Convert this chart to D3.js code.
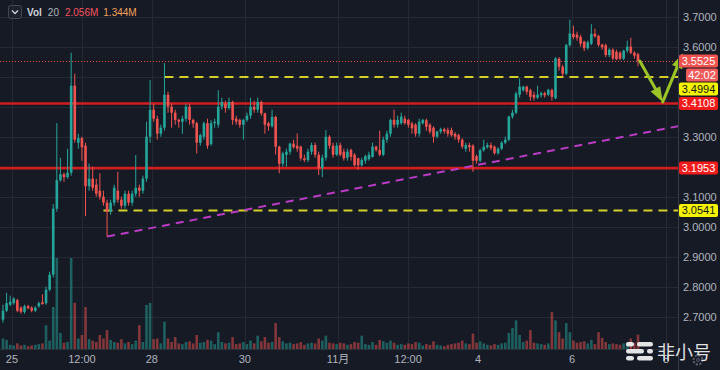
<!DOCTYPE html>
<html>
<head>
<meta charset="utf-8">
<script src="https://cdn.jsdelivr.net/npm/d3@7"></script>
<style>
  html, body { margin: 0; padding: 0; background: #161a25; overflow: hidden; }
  svg { display: block; font-family: 'Liberation Sans', Arial, sans-serif; }
</style>
</head>
<body>
<div id="stage"></div>
<script>
'use strict';

// candles (one per bar, left to right)
var opens = [
  2.69, 2.72, 2.74, 2.745, 2.755, 2.73, 2.716, 2.735, 2.73, 2.72,
  2.735, 2.748, 2.745, 2.79, 2.84, 3.06, 3.155, 3.175, 3.165, 3.18,
  3.47, 3.28, 3.295, 3.27, 3.135, 3.16, 3.14, 3.12, 3.10, 3.08,
  3.05, 3.08, 3.12, 3.09, 3.07, 3.11, 3.08, 3.11, 3.13, 3.12,
  3.16, 3.30, 3.39, 3.36, 3.31, 3.33, 3.44, 3.40, 3.38, 3.356,
  3.35, 3.36, 3.40, 3.356, 3.345, 3.28, 3.30, 3.345, 3.275, 3.345,
  3.34, 3.40, 3.41, 3.395, 3.416, 3.36, 3.356, 3.34, 3.356, 3.37,
  3.40, 3.39, 3.416, 3.378, 3.345, 3.335, 3.366, 3.267, 3.21, 3.24,
  3.25, 3.277, 3.27, 3.267, 3.228, 3.222, 3.25, 3.272, 3.24, 3.195,
  3.23, 3.30, 3.27, 3.24, 3.272, 3.25, 3.23, 3.256, 3.24, 3.228,
  3.205, 3.22, 3.225, 3.233, 3.267, 3.256, 3.24, 3.29, 3.31, 3.356,
  3.34, 3.345, 3.36, 3.356, 3.344, 3.34, 3.31, 3.345, 3.355, 3.34,
  3.33, 3.30, 3.317, 3.325, 3.322, 3.322, 3.31, 3.305, 3.29, 3.26,
  3.272, 3.27, 3.235, 3.22, 3.255, 3.265, 3.272, 3.267, 3.245, 3.26,
  3.28, 3.29, 3.367, 3.38, 3.44, 3.455, 3.467, 3.455, 3.44, 3.43,
  3.438, 3.445, 3.44, 3.456, 3.428, 3.56, 3.533, 3.51, 3.605, 3.643,
  3.64, 3.633, 3.617, 3.595, 3.61, 3.643, 3.636, 3.607, 3.605, 3.572,
  3.59, 3.583, 3.58, 3.56, 3.587, 3.60, 3.58, 3.575
];
var highs = [
  2.74, 2.78, 2.77, 2.765, 2.76, 2.735, 2.74, 2.74, 2.735, 2.735,
  2.75, 2.775, 2.80, 2.85, 3.075, 3.345, 3.23, 3.18, 3.26, 3.58,
  3.51, 3.31, 3.30, 3.28, 3.21, 3.20, 3.16, 3.178, 3.12, 3.09,
  3.09, 3.14, 3.183, 3.10, 3.12, 3.12, 3.12, 3.239, 3.14, 3.17,
  3.35, 3.489, 3.41, 3.37, 3.34, 3.545, 3.45, 3.41, 3.39, 3.36,
  3.37, 3.41, 3.41, 3.36, 3.35, 3.31, 3.35, 3.36, 3.355, 3.36,
  3.455, 3.43, 3.42, 3.43, 3.42, 3.37, 3.36, 3.36, 3.38, 3.43,
  3.42, 3.43, 3.42, 3.38, 3.35, 3.39, 3.37, 3.27, 3.25, 3.26,
  3.28, 3.29, 3.311, 3.27, 3.24, 3.26, 3.28, 3.28, 3.25, 3.24,
  3.322, 3.305, 3.28, 3.28, 3.28, 3.26, 3.26, 3.26, 3.245, 3.23,
  3.23, 3.24, 3.25, 3.28, 3.27, 3.32, 3.30, 3.32, 3.36, 3.39,
  3.37, 3.38, 3.37, 3.36, 3.35, 3.345, 3.36, 3.36, 3.36, 3.345,
  3.335, 3.32, 3.33, 3.33, 3.33, 3.33, 3.315, 3.31, 3.295, 3.28,
  3.28, 3.275, 3.24, 3.26, 3.29, 3.28, 3.28, 3.27, 3.265, 3.285,
  3.30, 3.37, 3.39, 3.45, 3.494, 3.47, 3.47, 3.46, 3.45, 3.47,
  3.45, 3.45, 3.46, 3.46, 3.565, 3.565, 3.54, 3.61, 3.69, 3.67,
  3.65, 3.64, 3.62, 3.62, 3.675, 3.66, 3.64, 3.61, 3.61, 3.595,
  3.595, 3.59, 3.585, 3.59, 3.62, 3.63, 3.585, 3.58
];
var lows = [
  2.68, 2.715, 2.735, 2.74, 2.715, 2.71, 2.71, 2.725, 2.715, 2.715,
  2.73, 2.74, 2.74, 2.785, 2.83, 3.05, 3.15, 3.15, 3.16, 3.17,
  3.28, 3.26, 3.22, 3.035, 3.12, 3.12, 3.10, 3.09, 3.07, 2.967,
  3.04, 3.07, 3.08, 3.06, 3.06, 3.07, 3.07, 3.10, 3.10, 3.11,
  3.15, 3.28, 3.35, 3.29, 3.30, 3.32, 3.38, 3.33, 3.34, 3.33,
  3.31, 3.35, 3.34, 3.33, 3.244, 3.27, 3.29, 3.26, 3.27, 3.33,
  3.33, 3.39, 3.38, 3.39, 3.34, 3.34, 3.33, 3.29, 3.35, 3.36,
  3.38, 3.38, 3.37, 3.31, 3.32, 3.33, 3.24, 3.178, 3.20, 3.20,
  3.24, 3.26, 3.25, 3.22, 3.215, 3.215, 3.24, 3.23, 3.172, 3.165,
  3.22, 3.26, 3.23, 3.235, 3.235, 3.22, 3.22, 3.22, 3.20, 3.19,
  3.20, 3.21, 3.22, 3.23, 3.25, 3.235, 3.235, 3.28, 3.30, 3.33,
  3.33, 3.34, 3.34, 3.33, 3.31, 3.30, 3.30, 3.34, 3.32, 3.31,
  3.28, 3.295, 3.31, 3.31, 3.30, 3.30, 3.29, 3.28, 3.26, 3.25,
  3.25, 3.183, 3.21, 3.215, 3.25, 3.26, 3.255, 3.24, 3.24, 3.255,
  3.275, 3.285, 3.36, 3.375, 3.43, 3.45, 3.44, 3.42, 3.42, 3.425,
  3.43, 3.43, 3.435, 3.42, 3.425, 3.52, 3.50, 3.505, 3.60, 3.625,
  3.62, 3.60, 3.585, 3.59, 3.605, 3.63, 3.60, 3.59, 3.565, 3.565,
  3.555, 3.555, 3.555, 3.555, 3.58, 3.575, 3.56, 3.535
];
var closes = [
  2.72, 2.745, 2.75, 2.76, 2.72, 2.716, 2.735, 2.728, 2.72, 2.73,
  2.745, 2.742, 2.79, 2.84, 3.06, 3.155, 3.175, 3.165, 3.18, 3.47,
  3.29, 3.295, 3.265, 3.135, 3.16, 3.13, 3.11, 3.10, 3.08, 3.05,
  3.08, 3.13, 3.09, 3.07, 3.11, 3.08, 3.11, 3.13, 3.12, 3.16,
  3.30, 3.39, 3.36, 3.31, 3.33, 3.44, 3.40, 3.38, 3.356, 3.35,
  3.36, 3.40, 3.356, 3.344, 3.28, 3.305, 3.345, 3.27, 3.345, 3.35,
  3.40, 3.416, 3.395, 3.416, 3.356, 3.35, 3.34, 3.356, 3.37, 3.40,
  3.39, 3.416, 3.378, 3.34, 3.335, 3.366, 3.267, 3.21, 3.244, 3.25,
  3.277, 3.265, 3.26, 3.228, 3.222, 3.25, 3.272, 3.24, 3.195, 3.23,
  3.30, 3.27, 3.24, 3.27, 3.24, 3.228, 3.25, 3.233, 3.205, 3.205,
  3.222, 3.235, 3.24, 3.267, 3.256, 3.24, 3.29, 3.31, 3.356, 3.34,
  3.356, 3.367, 3.345, 3.34, 3.328, 3.31, 3.35, 3.356, 3.333, 3.317,
  3.30, 3.317, 3.325, 3.318, 3.31, 3.305, 3.30, 3.29, 3.267, 3.272,
  3.265, 3.22, 3.22, 3.255, 3.267, 3.272, 3.262, 3.245, 3.26, 3.28,
  3.29, 3.367, 3.38, 3.444, 3.467, 3.467, 3.45, 3.433, 3.43, 3.44,
  3.445, 3.438, 3.456, 3.433, 3.561, 3.533, 3.51, 3.605, 3.644, 3.632,
  3.63, 3.61, 3.595, 3.615, 3.643, 3.634, 3.606, 3.598, 3.572, 3.59,
  3.561, 3.558, 3.56, 3.587, 3.60, 3.58, 3.57, 3.5525
];
// volume in millions
var volumes = [
  1.5, 1.3, 0.6, 0.5, 0.8, 0.5, 0.6, 0.4, 0.5, 0.6,
  0.7, 0.8, 3.4, 1.2, 6.0, 13.0, 2.3, 0.9, 1.0, 13.0,
  6.6, 1.5, 2.0, 6.0, 1.4, 1.2, 1.0, 2.0, 1.5, 2.7,
  1.3, 1.0, 0.9, 1.4, 0.8, 1.0, 0.7, 1.2, 3.4, 1.0,
  6.3, 6.6, 1.4, 1.5, 0.8, 3.9, 1.5, 1.0, 1.7, 0.8,
  0.7, 1.0, 1.1, 0.8, 2.0, 0.9, 1.0, 1.3, 1.2, 0.7,
  2.4, 1.0, 0.8, 0.9, 1.7, 0.7, 0.8, 1.0, 0.7, 1.2,
  0.8, 1.9, 1.1, 1.7, 0.9, 1.0, 3.7, 1.7, 1.1, 0.8,
  0.9, 0.7, 0.8, 1.0, 0.6, 0.8, 0.9, 0.8, 1.5, 1.2,
  1.9, 0.9, 0.8, 0.7, 0.9, 0.8, 0.6, 0.7, 1.0, 0.9,
  1.9, 0.7, 0.6, 1.0, 0.6, 1.3, 1.1, 0.9, 1.2, 0.9,
  0.6, 0.7, 0.6, 0.8, 0.7, 1.0, 0.9, 0.5, 0.7, 0.6,
  1.1, 0.6, 0.5, 0.4, 0.6, 0.7, 0.8, 0.9, 1.2, 0.8,
  0.7, 2.2, 0.9, 1.1, 0.8, 0.6, 0.5, 0.7, 0.6, 0.8,
  0.9, 2.3, 3.0, 4.1, 2.0, 1.0, 1.2, 2.7, 0.9, 0.8,
  0.7, 0.6, 0.8, 5.3, 4.1, 2.4, 1.5, 3.7, 2.4, 1.2,
  0.9, 1.0, 1.1, 0.8, 1.3, 0.7, 2.4, 1.6, 1.0, 0.7,
  0.8, 0.7, 0.6, 0.8, 0.9, 1.5, 0.9, 2.056
];

var priceTicks = [2.7, 2.8, 2.9, 3.0, 3.1, 3.2, 3.3, 3.4, 3.5, 3.6, 3.7];
var timeTickIdx = [2.5, 22, 41.5, 67.4, 93.4, 112.9, 132.4, 158.6, 184.8];
var timeTickLabels = ['25', '12:00', '28', '30', '11月', '12:00', '4', '6', '8'];

// drawings on the chart
var redLevels = [3.4108, 3.1953];
var yellowLevels = [3.4994, 3.0541];
var yellowStartIdx = [45, 28];
var trendIdx = [29, 188.6];
var trendPrice = [2.967, 3.336];
var arrowIdx = [177.5, 183.9, 189.5];
var arrowPrice = [3.552, 3.416, 3.578];

var lastPrice = 3.5525;
var countdownText = '42:02';
var volLegend = ['Vol', '20', '2.056M', '1.344M'];

var W = 720, H = 370;
var plotRight = 678, paneBottom = 349;
var upColor = '#26a69a', downColor = '#ef5350';

function DrawChart() {
    var svg = d3.select('#stage').append('svg')
        .attr('width', W)
        .attr('height', H);

    svg.append('rect').attr('width', W).attr('height', H).attr('fill', '#161a25');

    var n = closes.length;
    var x = d3.scaleLinear().domain([0, n - 1]).range([3, 638]);
    var y = d3.scaleLinear().domain([2.7, 3.7]).range([316.7, 16.7]);
    var yVol = d3.scaleLinear().domain([0, 13]).range([paneBottom, 258]);
    var bw = 2.6;

    svg.append('clipPath').attr('id', 'plotClip')
        .append('rect').attr('x', 0).attr('y', 0).attr('width', plotRight).attr('height', paneBottom);

    // grid
    var grid = svg.append('g').attr('stroke', '#252934').attr('stroke-width', 1);
    grid.selectAll('.hgrid').data(priceTicks).enter()
        .append('line')
            .attr('x1', 0).attr('x2', plotRight)
            .attr('y1', function(d) { return Math.round(y(d)) + 0.5; })
            .attr('y2', function(d) { return Math.round(y(d)) + 0.5; });
    grid.selectAll('.vgrid').data(timeTickIdx).enter()
        .append('line')
            .attr('y1', 0).attr('y2', paneBottom)
            .attr('x1', function(d) { return Math.round(x(d)) + 0.5; })
            .attr('x2', function(d) { return Math.round(x(d)) + 0.5; });

    var idx = d3.range(n);
    var plot = svg.append('g').attr('clip-path', 'url(#plotClip)');

    // volume
    plot.append('g').selectAll('rect').data(idx).enter()
        .append('rect')
            .attr('x', function(i) { return x(i) - bw / 2; })
            .attr('y', function(i) { return yVol(volumes[i]); })
            .attr('width', bw)
            .attr('height', function(i) { return paneBottom - yVol(volumes[i]); })
            .attr('fill', function(i) { return closes[i] >= opens[i] ? upColor : downColor; })
            .attr('fill-opacity', 0.5);

    // level lines
    plot.selectAll('.redlevel').data(redLevels).enter()
        .append('line')
            .attr('x1', 0).attr('x2', plotRight)
            .attr('y1', function(d) { return y(d); })
            .attr('y2', function(d) { return y(d); })
            .attr('stroke', '#d21d20')
            .attr('stroke-width', 2.6);
    plot.selectAll('.yellevel').data(yellowLevels).enter()
        .append('line')
            .attr('x1', function(d, i) { return x(yellowStartIdx[i]); })
            .attr('x2', plotRight)
            .attr('y1', function(d) { return y(d); })
            .attr('y2', function(d) { return y(d); })
            .attr('stroke', '#d2cf2a')
            .attr('stroke-width', 2)
            .attr('stroke-dasharray', '9,6');
    plot.append('line')
        .attr('x1', x(trendIdx[0])).attr('y1', y(trendPrice[0]))
        .attr('x2', x(trendIdx[1])).attr('y2', y(trendPrice[1]))
        .attr('stroke', '#bb3cc4')
        .attr('stroke-width', 2)
        .attr('stroke-dasharray', '8,6');
    plot.append('line')
        .attr('x1', 0).attr('x2', plotRight)
        .attr('y1', Math.round(y(lastPrice)) + 0.5)
        .attr('y2', Math.round(y(lastPrice)) + 0.5)
        .attr('stroke', downColor)
        .attr('stroke-width', 1)
        .attr('stroke-dasharray', '1,2');

    // candles
    var candles = plot.append('g');
    candles.selectAll('.wick').data(idx).enter()
        .append('line')
            .attr('x1', function(i) { return x(i); })
            .attr('x2', function(i) { return x(i); })
            .attr('y1', function(i) { return y(highs[i]); })
            .attr('y2', function(i) { return y(lows[i]); })
            .attr('stroke', function(i) { return closes[i] >= opens[i] ? upColor : downColor; })
            .attr('stroke-width', 1);
    candles.selectAll('.body').data(idx).enter()
        .append('rect')
            .attr('x', function(i) { return x(i) - bw / 2; })
            .attr('y', function(i) { return y(Math.max(opens[i], closes[i])); })
            .attr('width', bw)
            .attr('height', function(i) { return Math.max(1, Math.abs(y(opens[i]) - y(closes[i]))); })
            .attr('fill', function(i) { return closes[i] >= opens[i] ? upColor : downColor; });

    // green arrows
    var arrowColor = '#9cc426';
    var ax = arrowIdx.map(function(d) { return x(d); });
    var ay = arrowPrice.map(function(d) { return y(d); });
    for (var k = 0; k < 2; k++) {
        var x1 = ax[k], y1 = ay[k], x2 = ax[k + 1], y2 = ay[k + 1];
        var dx = x2 - x1, dy = y2 - y1, len = Math.sqrt(dx * dx + dy * dy);
        var ux = dx / len, uy = dy / len, hl = 15, hw = 5.5;
        var bx = x2 - ux * hl, by = y2 - uy * hl;
        svg.append('line')
            .attr('x1', x1).attr('y1', y1).attr('x2', bx).attr('y2', by)
            .attr('stroke', arrowColor).attr('stroke-width', 3).attr('stroke-linecap', 'round');
        svg.append('path')
            .attr('d', 'M' + x2 + ',' + y2 + 'L' + (bx - uy * hw) + ',' + (by + ux * hw) +
                'L' + (bx + uy * hw) + ',' + (by - ux * hw) + 'Z')
            .attr('fill', arrowColor);
    }

    // axis borders
    svg.append('line')
        .attr('x1', plotRight + 0.5).attr('x2', plotRight + 0.5).attr('y1', 0).attr('y2', H)
        .attr('stroke', '#363a45');
    svg.append('line')
        .attr('x1', 0).attr('x2', plotRight).attr('y1', paneBottom + 0.5).attr('y2', paneBottom + 0.5)
        .attr('stroke', '#2a2e39');

    // price badges, stacked so they do not overlap
    var badges = [
        {y: y(lastPrice), text: lastPrice.toFixed(4), bg: downColor, fg: '#ffffff', x0: 679},
        {y: y(lastPrice) + 14, text: countdownText, bg: '#ef5b5b', fg: '#ffffff', x0: 686},
        {y: y(yellowLevels[0]), text: yellowLevels[0].toFixed(4), bg: '#f6f300', fg: '#131722', x0: 679},
        {y: y(redLevels[0]), text: redLevels[0].toFixed(4), bg: '#f21b1b', fg: '#ffffff', x0: 679},
        {y: y(redLevels[1]), text: redLevels[1].toFixed(4), bg: '#f21b1b', fg: '#ffffff', x0: 679},
        {y: y(yellowLevels[1]), text: yellowLevels[1].toFixed(4), bg: '#f6f300', fg: '#131722', x0: 679}
    ];
    for (var b = 1; b < badges.length; b++) {
        if (badges[b].y < badges[b - 1].y + 14) badges[b].y = badges[b - 1].y + 14;
    }

    var axisG = svg.append('g').attr('font-size', 11);
    axisG.selectAll('.ptick')
        .data(priceTicks.filter(function(p) {
            return !badges.some(function(bd) { return Math.abs(bd.y - y(p)) < 11; });
        }))
        .enter()
        .append('text')
            .attr('x', 683)
            .attr('y', function(d) { return y(d); })
            .attr('dy', '0.35em')
            .attr('fill', '#b2b5be')
            .text(function(d) { return d.toFixed(4); });

    var bg = axisG.selectAll('.badge').data(badges).enter().append('g');
    bg.append('rect')
        .attr('x', function(d) { return d.x0; })
        .attr('y', function(d) { return d.y - 6.5; })
        .attr('width', function(d) { return 718 - d.x0; })
        .attr('height', 13)
        .attr('rx', 2)
        .attr('fill', function(d) { return d.bg; });
    bg.append('text')
        .attr('x', function(d) { return (d.x0 + 718) / 2; })
        .attr('y', function(d) { return d.y; })
        .attr('dy', '0.36em')
        .attr('text-anchor', 'middle')
        .attr('fill', function(d) { return d.fg; })
        .text(function(d) { return d.text; });

    // time axis
    axisG.selectAll('.ttick').data(timeTickIdx).enter()
        .append('text')
            .attr('x', function(d) { return x(d); })
            .attr('y', 363)
            .attr('text-anchor', 'middle')
            .attr('fill', '#b2b5be')
            .attr('font-family', "'Liberation Sans', 'Noto Sans CJK SC', sans-serif")
            .text(function(d, i) { return timeTickLabels[i]; });

    // gear icon
    svg.append('circle').attr('cx', 698).attr('cy', 360).attr('r', 4.5)
        .attr('fill', 'none').attr('stroke', '#5d606b').attr('stroke-width', 2)
        .attr('stroke-dasharray', '2,1.5');
    svg.append('circle').attr('cx', 698).attr('cy', 360).attr('r', 1.5)
        .attr('fill', 'none').attr('stroke', '#5d606b');

    // legend
    var leg = svg.append('g').attr('font-size', 10);
    leg.append('rect').attr('x', 8.5).attr('y', 5.5).attr('width', 13).attr('height', 13).attr('rx', 2)
        .attr('fill', '#1e222d').attr('stroke', '#434651');
    leg.append('path').attr('d', 'M12,10.5 L15,13.5 L18,10.5')
        .attr('fill', 'none').attr('stroke', '#d1d4dc').attr('stroke-width', 1.3);
    var legColors = ['#d1d4dc', '#b2b5be', '#f7525f', '#f5a15a'];
    var legGap = [6, 6, 5, 0];
    var lx = 27;
    leg.selectAll('text').data(volLegend).enter()
        .append('text')
            .attr('y', 16)
            .attr('fill', function(d, i) { return legColors[i]; })
            .attr('font-weight', function(d, i) { return i === 0 ? 'bold' : 'normal'; })
            .text(function(d) { return d; })
            .each(function(d, i) {
                d3.select(this).attr('x', lx);
                lx += this.getComputedTextLength() + legGap[i];
            });

    // watermark
    var wm = svg.append('g').attr('fill', '#ffffff').attr('fill-opacity', 0.88);
    var pills = [[626, 342, 8], [637, 342, 16], [626, 349, 18], [647, 349, 6], [626, 356, 8], [637, 356, 16]];
    wm.selectAll('rect').data(pills).enter()
        .append('rect')
            .attr('x', function(d) { return d[0]; })
            .attr('y', function(d) { return d[1]; })
            .attr('width', function(d) { return d[2]; })
            .attr('height', 4.5)
            .attr('rx', 2.2);
    wm.append('text')
        .attr('x', 657).attr('y', 359)
        .attr('font-size', 18)
        .attr('font-family', "'Noto Sans CJK SC', sans-serif")
        .text('非小号');
}

window.onload = DrawChart;
</script>
</body>
</html>
